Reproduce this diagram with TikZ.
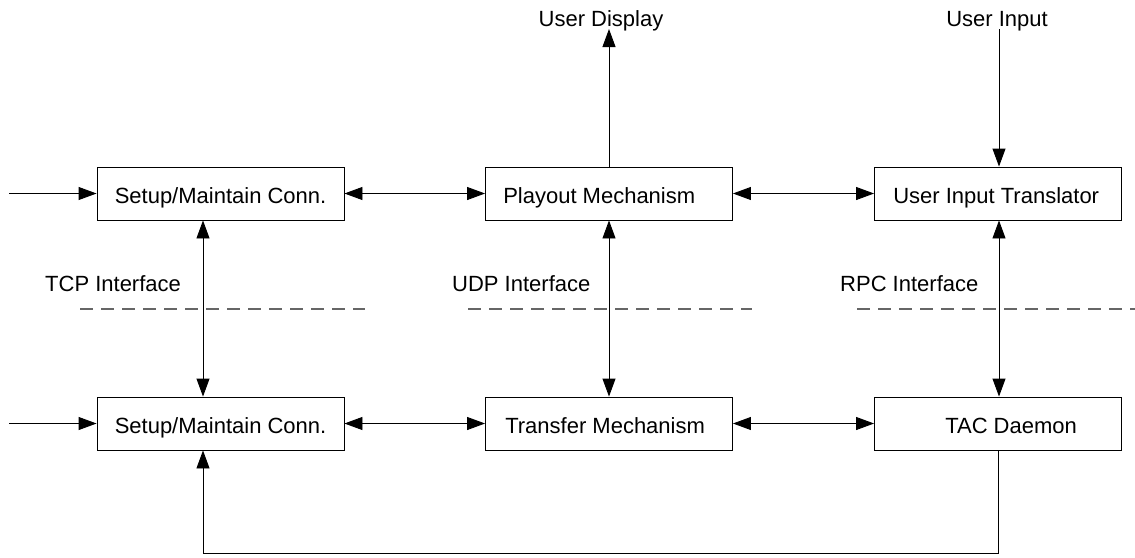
\documentclass[tikz,border=0pt]{standalone}
\usepackage{fontspec}
\setmainfont{Liberation Sans}
\usetikzlibrary{arrows.meta}
\begin{document}
\begin{tikzpicture}[x=1pt,y=-1pt,
  every node/.style={font=\fontsize{22}{26}\selectfont},
  box/.style={draw, line width=0.9pt, minimum width=247pt, minimum height=53pt, inner sep=0pt},
  txt/.style={inner sep=0pt},
  arr/.style={line width=0.9pt, -{Triangle[length=18pt,width=13pt]}},
  biarr/.style={line width=0.9pt, {Triangle[length=18pt,width=13pt]}-{Triangle[length=18pt,width=13pt]}},
  plain/.style={line width=0.9pt},
  sep/.style={line width=1.4pt, draw=black!60, dash pattern=on 13pt off 8pt}]
\useasboundingbox (0,0) rectangle (1135,557);
% boxes
\node[box, label={[txt,anchor=base west,xshift=18pt,yshift=-10pt]west:Setup/Maintain Conn.}] (s1) at (220.5,193.5) {};
\node[box, label={[txt,anchor=base west,xshift=18pt,yshift=-10pt]west:Playout Mechanism}] (pm) at (609,193.5) {};
\node[box, label={[txt,anchor=base west,xshift=19pt,yshift=-10pt]west:User Input Translator}] (uit) at (998,193.5) {};
\node[box, label={[txt,anchor=base west,xshift=18pt,yshift=-10pt]west:Setup/Maintain Conn.}] (s2) at (220.5,423.5) {};
\node[box, label={[txt,anchor=base west,xshift=20pt,yshift=-10pt]west:Transfer Mechanism}] (tm) at (609,423.5) {};
\node[box, label={[txt,anchor=base west,xshift=71pt,yshift=-10pt]west:TAC Daemon}] (tac) at (998,423.5) {};
% free texts
\node[txt, anchor=base] (ud) at (601,26) {User Display};
\node[txt, anchor=base] (ui) at (997,26) {User Input};
\node[txt, anchor=base west] (tcp) at (45,291) {TCP Interface};
\node[txt, anchor=base west] (udp) at (452,291) {UDP Interface};
\node[txt, anchor=base west] (rpc) at (840,291) {RPC Interface};
% coordinates
\coordinate (in1) at (9,193.5);
\coordinate (in2) at (9,423.5);
\coordinate (udtip) at (609,29);
\coordinate (uitop) at (999,29);
\coordinate (loop) at (998,553);
% dashed separators
\draw[sep] (80,309) -- (365,309);
\draw[sep] (468,309) -- (752,309);
\draw[sep] (857,309) -- (1135,309);
% connectors
\draw[arr] (in1) -- (s1);
\draw[arr] (in2) -- (s2);
\draw[biarr] (s1) -- (pm);
\draw[biarr] (pm) -- (uit);
\draw[biarr] (s2) -- (tm);
\draw[biarr] (tm) -- (tac);
\draw[arr] (pm) -- (udtip);
\draw[arr] (uitop) -- (uit.north -| uitop);
\draw[biarr] (s1.south -| 203,0) -- (s2.north -| 203,0);
\draw[biarr] (pm) -- (tm);
\draw[biarr] (uit.south -| uitop) -- (tac.north -| uitop);
\draw[arr] (tac.south) -- (loop) -| (s2.south -| 203,0);
\end{tikzpicture}
\end{document}
